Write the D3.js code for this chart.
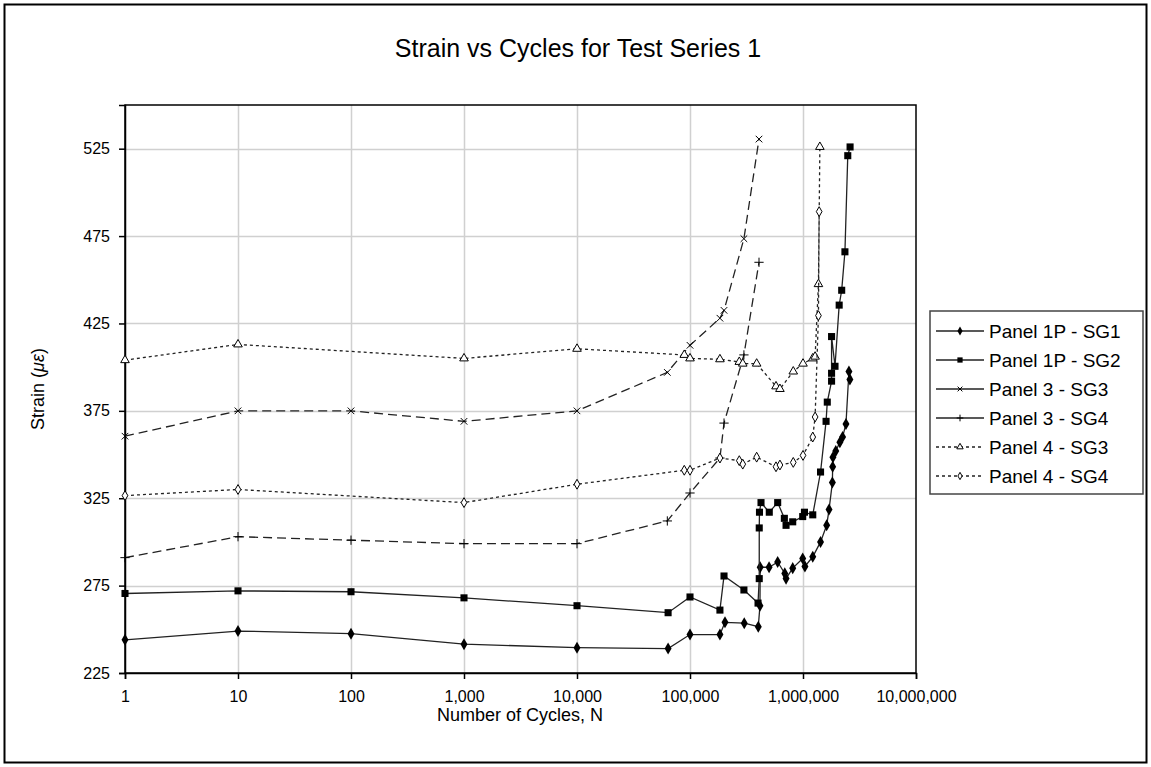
<!DOCTYPE html>
<meta charset="utf-8">
<style>
  body { margin: 0; background: #fff; }
  text { font-family: "Liberation Sans", Arial, sans-serif; fill: #000; }
</style>
<body>
<script src="https://cdn.jsdelivr.net/npm/d3@7/dist/d3.min.js"></script>
<script>

var width = 1151,
    height = 767;

// cycles (N) and strain (microstrain) per gauge
var p1sg1N = [1, 10, 100, 1000, 10000, 64000, 100000, 184000, 204000, 302000, 402000, 416000, 418000, 501000, 597000, 690000, 708000, 811000, 994000, 1040000, 1220000, 1430000, 1620000, 1700000, 1820000, 1830000, 1840000, 1950000, 2120000, 2240000, 2400000, 2550000, 2600000];
var p1sg1 = [244, 249, 247.5, 241.5, 239.5, 239, 247, 247, 254, 253.5, 251.5, 263.5, 285.5, 285.5, 288.5, 282, 279, 285, 290.5, 286, 291.5, 300, 309.5, 318.5, 334, 343, 348.5, 352, 357, 360, 367.5, 397.5, 393];

var p1sg2N = [1, 10, 100, 1000, 10000, 64000, 100000, 184000, 200000, 300000, 400000, 410000, 410000, 412000, 425000, 503000, 597000, 684000, 708000, 811000, 994000, 1030000, 1220000, 1430000, 1600000, 1640000, 1790000, 1790000, 1790000, 1920000, 2090000, 2200000, 2350000, 2490000, 2610000];
var p1sg2 = [270.5, 272, 271.5, 268, 263.5, 259.5, 268.5, 261, 280.5, 272.5, 265, 279, 308, 317, 322.5, 317, 322.5, 313.5, 309.5, 311.5, 314.5, 317, 315.5, 340, 369, 380, 392, 396.5, 417.5, 400.5, 435.5, 444, 466, 521, 526];

var p3sg3N = [1, 10, 100, 1000, 10000, 63000, 100000, 184000, 200000, 300000, 408000];
var p3sg3 = [360.5, 375, 375, 369, 375, 397, 412.5, 428, 432.5, 473.5, 530.5];

var p3sg4N = [1, 10, 100, 1000, 10000, 63000, 100000, 184000, 200000, 300000, 408000];
var p3sg4 = [291, 303, 301, 299, 299, 312, 328, 348, 368, 407, 460];

var p4sg3N = [1, 10, 1000, 10000, 89000, 100000, 184000, 273000, 293000, 389000, 577000, 625000, 820000, 1000000, 1220000, 1280000, 1370000, 1410000];
var p4sg3 = [404, 413, 405, 410.5, 407, 405, 404.5, 403, 402, 402, 389, 387.5, 397.5, 402, 405, 406, 447.5, 526];

var p4sg4N = [1, 10, 1000, 10000, 89000, 100000, 184000, 273000, 293000, 389000, 577000, 625000, 820000, 1000000, 1220000, 1280000, 1370000, 1390000];
var p4sg4 = [326.5, 330, 322.5, 333, 341, 341, 348, 346.5, 344.5, 348.5, 343, 344, 345.5, 349.5, 360, 371.5, 429.5, 489];

var seriesNames = ["Panel 1P - SG1", "Panel 1P - SG2", "Panel 3 - SG3", "Panel 3 - SG4", "Panel 4 - SG3", "Panel 4 - SG4"];
var xTicks = [1, 10, 100, 1000, 10000, 100000, 1000000, 10000000];
var yTicks = [225, 275, 325, 375, 425, 475, 525];

var series = [
  {name: seriesNames[0], n: p1sg1N, v: p1sg1, dash: null, sym: d3.symbolDiamond, size: 42, fill: "#000", stroke: "none"},
  {name: seriesNames[1], n: p1sg2N, v: p1sg2, dash: null, sym: d3.symbolSquare, size: 50, fill: "#000", stroke: "none"},
  {name: seriesNames[2], n: p3sg3N, v: p3sg3, dash: "9,5", sym: d3.symbolX, size: 30, fill: "none", stroke: "#000"},
  {name: seriesNames[3], n: p3sg4N, v: p3sg4, dash: "9,5", sym: d3.symbolPlus, size: 30, fill: "none", stroke: "#000"},
  {name: seriesNames[4], n: p4sg3N, v: p4sg3, dash: "3,3", sym: d3.symbolTriangle, size: 32, fill: "#fff", stroke: "#000"},
  {name: seriesNames[5], n: p4sg4N, v: p4sg4, dash: "3,3", sym: d3.symbolDiamond, size: 28, fill: "#fff", stroke: "#000"}
];

var svg = d3.select("body").append("svg")
    .attr("width", width)
    .attr("height", height);

var x = d3.scaleLog().domain([1, 1e7]).range([125, 916]),
    y = d3.scaleLinear().domain([225, 550]).range([673, 105]);

// outer chart frame
svg.append("rect")
    .attr("x", 4.5).attr("y", 4.5)
    .attr("width", 1142).attr("height", 758)
    .attr("fill", "#fff").attr("stroke", "#000").attr("stroke-width", 2);

svg.append("text")
    .attr("x", 578).attr("y", 57)
    .attr("text-anchor", "middle")
    .style("font-size", "25px")
    .text("Strain vs Cycles for Test Series 1");

// grid
var grid = svg.append("g").attr("stroke", "#d0d0d0").attr("stroke-width", 1.5);
grid.selectAll(".gx")
    .data(xTicks.slice(1, -1))
    .enter().append("line")
    .attr("x1", d => Math.round(x(d)) + 0.5).attr("x2", d => Math.round(x(d)) + 0.5)
    .attr("y1", y(550)).attr("y2", y(225));
grid.selectAll(".gy")
    .data(yTicks.slice(1))
    .enter().append("line")
    .attr("y1", d => Math.round(y(d)) + 0.5).attr("y2", d => Math.round(y(d)) + 0.5)
    .attr("x1", x(1)).attr("x2", x(1e7));

svg.append("rect")
    .attr("x", x(1)).attr("y", y(550))
    .attr("width", x(1e7) - x(1)).attr("height", y(225) - y(550))
    .attr("fill", "none").attr("stroke", "#000").attr("stroke-width", 1.5);

var xAxis = svg.append("g")
    .attr("transform", "translate(0," + y(225) + ")")
    .call(d3.axisBottom(x).tickValues(xTicks).tickFormat(d3.format(",")).tickSize(6).tickPadding(12));
var yAxis = svg.append("g")
    .attr("transform", "translate(" + x(1) + ",0)")
    .call(d3.axisLeft(y).tickValues(yTicks).tickSize(6).tickPadding(9));

[xAxis, yAxis].forEach(function(a) {
  a.select(".domain").attr("stroke", "#000").attr("stroke-width", 1.5);
  a.selectAll(".tick line").attr("stroke", "#000").attr("stroke-width", 1.5);
  a.selectAll(".tick text").style("font-size", "16px").attr("fill", "#222")
      .style("font-family", "'Liberation Sans', Arial, sans-serif");
});

svg.append("text")
    .attr("x", 520).attr("y", 721)
    .attr("text-anchor", "middle")
    .style("font-size", "18px")
    .text("Number of Cycles, N");

var yl = svg.append("text")
    .attr("transform", "translate(44,389) rotate(-90)")
    .attr("text-anchor", "middle")
    .style("font-size", "18px");
yl.append("tspan").text("Strain (");
yl.append("tspan").style("font-style", "italic").text("\u03bc\u03b5");
yl.append("tspan").text(")");

// lines and markers
var line = d3.line()
    .x(d => x(d[0]))
    .y(d => y(d[1]));

series.forEach(function(s) {
  var pts = s.n.map((n, i) => [n, s.v[i]]);
  var g = svg.append("g");
  g.append("path")
      .datum(pts)
      .attr("d", line)
      .attr("fill", "none")
      .attr("stroke", "#222")
      .attr("stroke-width", 1.3)
      .attr("stroke-dasharray", s.dash);
  g.selectAll("path.m")
      .data(pts)
      .enter().append("path")
      .attr("class", "m")
      .attr("transform", d => "translate(" + x(d[0]) + "," + y(d[1]) + ")")
      .attr("d", d3.symbol().type(s.sym).size(s.size))
      .attr("fill", s.fill)
      .attr("stroke", s.stroke)
      .attr("stroke-width", 1);
});

// legend
var lg = svg.append("g").attr("transform", "translate(930,311)");
lg.append("rect")
    .attr("width", 213).attr("height", 183)
    .attr("fill", "#fff").attr("stroke", "#444").attr("stroke-width", 1.5);
series.forEach(function(s, i) {
  var yy = 20 + i * 29;
  lg.append("line")
      .attr("x1", 6).attr("x2", 54).attr("y1", yy).attr("y2", yy)
      .attr("stroke", "#222").attr("stroke-width", 1.3)
      .attr("stroke-dasharray", s.dash === "3,3" ? "3,3" : null);
  lg.append("path")
      .attr("transform", "translate(30," + yy + ")")
      .attr("d", d3.symbol().type(s.sym).size(s.size * 0.55))
      .attr("fill", s.fill).attr("stroke", s.stroke).attr("stroke-width", 1);
  lg.append("text")
      .attr("x", 59).attr("y", yy + 7)
      .style("font-size", "19px")
      .text(s.name);
});

</script>
